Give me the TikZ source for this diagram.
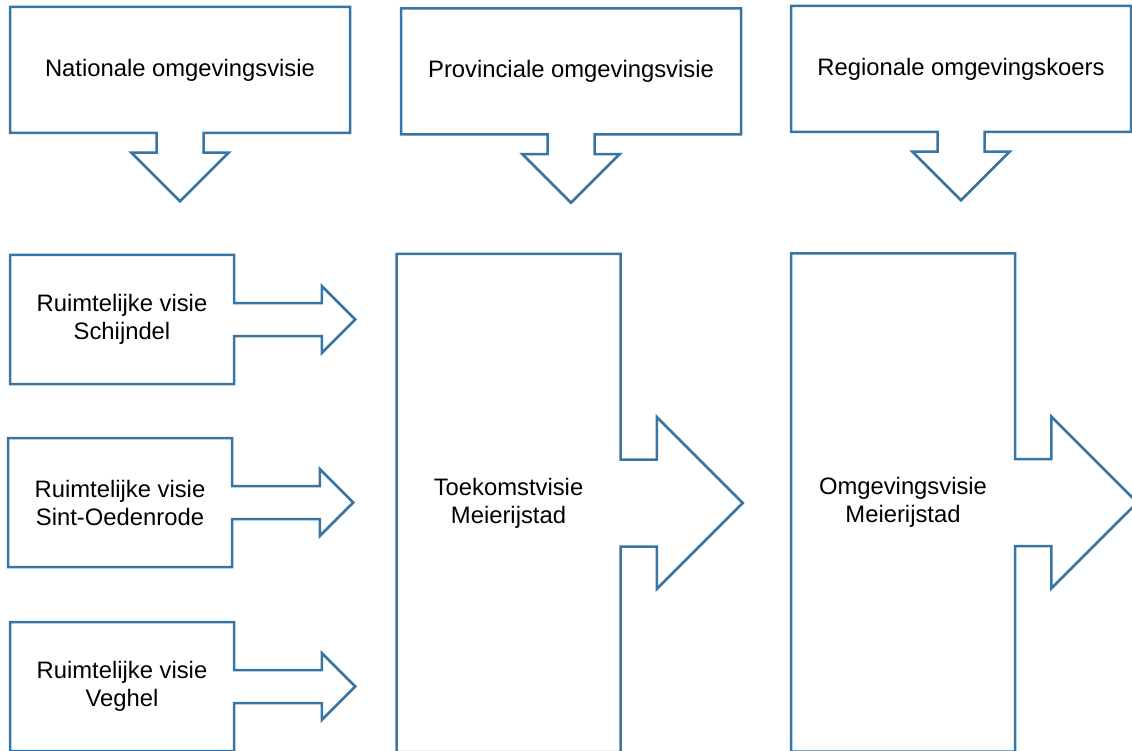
\documentclass[tikz,border=0pt]{standalone}
\usepackage{fontspec}
\setmainfont{Liberation Sans}
\usetikzlibrary{shapes.arrows}
\definecolor{visieblue}{RGB}{56,117,163}
\tikzset{
  visie/.style={shape=arrow box, draw=visieblue, line width=2.5pt, align=center,
    inner sep=0pt, font=\fontsize{23.8}{28}\selectfont},
  downbox/.style={visie, minimum width=340pt, minimum height=126pt,
    arrow box arrows={south:67pt}, arrow box shaft width=47pt,
    arrow box head extend=25pt},
  smallbox/.style={visie, minimum width=224pt, minimum height=129pt,
    arrow box arrows={east:120pt}, arrow box shaft width=33pt,
    arrow box head extend=17pt},
  bigbox/.style={visie, minimum width=224pt, minimum height=498pt,
    arrow box arrows={east:121pt}, arrow box shaft width=87pt,
    arrow box head extend=42.5pt}
}
\begin{document}
\begin{tikzpicture}[x=1pt,y=-1pt]
\useasboundingbox (0,0) rectangle (1132,751);
\clip (0,0) rectangle (1132,751);

\node[downbox] (nationaal) at (180,70) {Nationale omgevingsvisie};
\node[downbox] (provincie) at (571,71.5) {Provinciale omgevingsvisie};
\node[downbox] (regio) at (961,69) {Regionale omgevingskoers};

\node[smallbox] (schijndel) at (122,319.5) {Ruimtelijke visie\\Schijndel};
\node[smallbox] (oedenrode) at (120,502.5) {Ruimtelijke visie\\Sint-Oedenrode};
\node[smallbox] (veghel) at (122,686.5) {Ruimtelijke visie\\Veghel};

\node[bigbox] (toekomst) at (508.5,503) {Toekomstvisie\\Meierijstad};
\node[bigbox] (omgeving) at (903,502.5) {Omgevingsvisie\\Meierijstad};
\end{tikzpicture}
\end{document}
